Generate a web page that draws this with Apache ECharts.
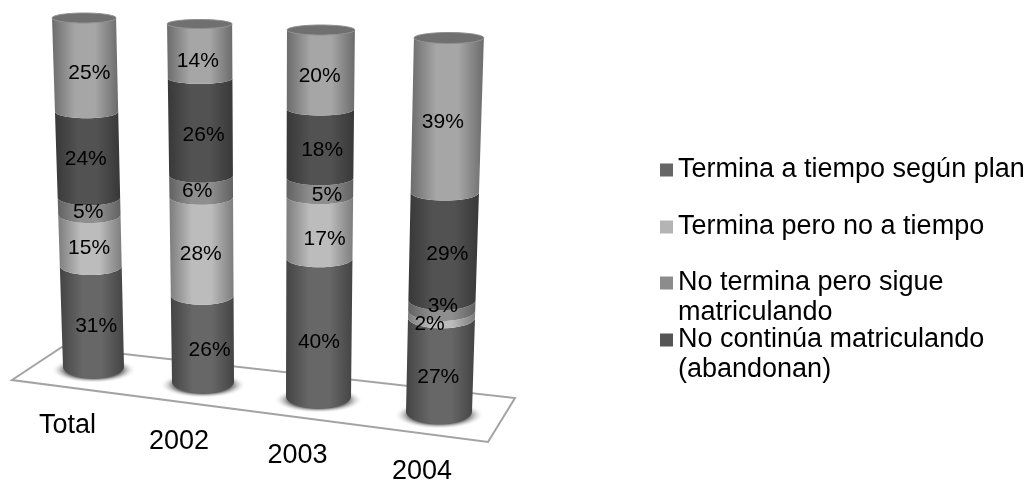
<!DOCTYPE html>
<html>
<head>
<meta charset="utf-8">
<style>html,body{margin:0;background:#fff}#chart{width:1027px;height:483px}</style>
<script src="https://cdn.jsdelivr.net/npm/echarts@6/dist/echarts.min.js"></script>
</head>
<body>
<div id="chart"></div>
<script>
var categories = ['Total', '2002', '2003', '2004']
var terminaATiempo = [31, 26, 40, 27]
var terminaNoATiempo = [15, 28, 17, 2]
var noTerminaSigue = [5, 6, 5, 3]
var noContinua = [24, 26, 18, 29]
var sinLeyenda = [25, 14, 20, 39]
var stackValues = [terminaATiempo, terminaNoATiempo, noTerminaSigue, noContinua, sinLeyenda]
var stackNames = ['Termina a tiempo según plan', 'Termina pero no a tiempo', 'No termina pero sigue matriculando', 'No continúa matriculando (abandonan)', 'Sin leyenda']

// estilo de cada tramo: color de leyenda y degradado del cilindro
var stackStyles = [
  {color: '#666666', edge: '#444444', mid: '#676767'},
  {color: '#b4b4b4', edge: '#7d7d7d', mid: '#bcbcbc'},
  {color: '#8c8c8c', edge: '#626262', mid: '#8e8e8e'},
  {color: '#555555', edge: '#383838', mid: '#525252'},
  {color: '#a0a0a0', edge: '#6c6c6c', mid: '#a6a6a6'}
]
// caja de cada cilindro (base) y cuanto se inclina arriba, en unidades del eje x
var cylinders = [
  {left: 63, width: 61, top: 18, base: 367, leanL: -0.18, leanR: 0.87, ryTop: 5, ryBase: 11, nameShift: -26, nameGap: 45},
  {left: 172, width: 62, top: 24, base: 382, leanL: -0.08, leanR: 0.97, ryTop: 4.5, ryBase: 11, nameShift: -24, nameGap: 46},
  {left: 286, width: 65, top: 30, base: 397, leanL: 0.015, leanR: 1.06, ryTop: 5, ryBase: 11, nameShift: -21, nameGap: 45},
  {left: 406, width: 66, top: 38, base: 412, leanL: 0.12, leanR: 1.18, ryTop: 5.5, ryBase: 12, nameShift: -17, nameGap: 46}
]
var perspective = 1.1

// ajuste manual de etiquetas [dx, dy], por tramo y cilindro
var labelNudge = [
  [[4, -1], [7, 1], [0, 3], [-2, 0]],
  [[-1, -1], [-1, -1], [5, 3], [-12, 0]],
  [[-1, -2], [-4, -3], [7, 0], [1, -9]],
  [[-2, -3], [3, 1], [2, 0], [4, -2]],
  [[4, 2], [-2, 5], [-1, 1], [-4, -1]]
]

function project (v) {
  var t = v / 100
  return t / (t + (1 - t) * perspective)
}

// puntos de la mitad delantera de la elipse a la altura v
function ringPoints (api, cyl, v, back) {
  var t = project(v)
  var l = api.coord([cyl.leanL * t, t * 100])
  var r = api.coord([1 + (cyl.leanR - 1) * t, t * 100])
  var ry = cyl.ryBase + (cyl.ryTop - cyl.ryBase) * t
  var pts = []
  for (var k = 0; k <= 24; k++) {
    var a = Math.PI * k / 24
    var s = back ? -1 : 1
    pts.push([(l[0] + r[0]) / 2 - Math.cos(a) * (r[0] - l[0]) / 2, l[1] + s * Math.sin(a) * ry])
  }
  return pts
}

function makeRender (cyl, style, stackIdx, cylIdx) {
  return function (params, api) {
    var from = api.value(0)
    var to = api.value(1)
    var lower = ringPoints(api, cyl, from)
    var upper = ringPoints(api, cyl, to)
    var children = []
    if (stackIdx === 0) {
      var c0 = api.coord([0.5, 0])
      var halfW = api.size([1, 0])[0] / 2
      var shadowR = halfW + 12
      children.push({
        type: 'circle',
        z2: -5,
        x: c0[0],
        y: c0[1] + 3,
        scaleY: (cyl.ryBase + 2) / shadowR,
        shape: {cx: 0, cy: 0, r: shadowR},
        style: {
          fill: new echarts.graphic.RadialGradient(0.5, 0.5, 0.5, [
            {offset: 0, color: 'rgba(70,70,70,0.95)'},
            {offset: 0.65, color: 'rgba(80,80,80,0.9)'},
            {offset: 1, color: 'rgba(255,255,255,0)'}
          ])
        }
      })
    }
    var fill = new echarts.graphic.LinearGradient(0, 0, 1, 0, [
      {offset: 0, color: style.edge},
      {offset: 0.35, color: style.mid},
      {offset: 0.65, color: style.mid},
      {offset: 1, color: style.edge}
    ])
    children.push({
      type: 'polygon',
      z2: stackIdx,
      shape: {points: upper.concat(lower.slice().reverse())},
      style: {fill: fill}
    })
    if (stackIdx === stackValues.length - 1) {
      children.push({
        type: 'polygon',
        z2: 10,
        shape: {points: upper.concat(ringPoints(api, cyl, to, true).reverse())},
        style: {fill: '#707070', stroke: '#8e8e8e', lineWidth: 1}
      })
    }
    // etiqueta en el centro del tramo
    var mid = ringPoints(api, cyl, (from + to) / 2)
    var centre = mid[12]
    var nudge = labelNudge[stackIdx][cylIdx]
    children.push({
      type: 'text',
      z2: 50,
      style: {
        text: stackValues[stackIdx][cylIdx] + '%',
        x: centre[0] + nudge[0],
        y: centre[1] + nudge[1],
        align: 'center',
        verticalAlign: 'middle',
        font: '21px "Liberation Sans", Arial, sans-serif',
        fill: '#000'
      }
    })
    return {type: 'group', children: children}
  }
}

var grids = [], xAxes = [], yAxes = [], series = []
cylinders.forEach(function (cyl, i) {
  // sin outerBounds: el nombre de 2004 no debe encoger el grid
  grids.push({left: cyl.left, width: cyl.width, top: cyl.top, height: cyl.base - cyl.top, outerBoundsMode: 'none'})
  xAxes.push({
    gridIndex: i,
    type: 'value',
    min: 0,
    max: 1,
    name: categories[i],
    nameLocation: 'middle',
    nameGap: cyl.nameGap,
    nameTextStyle: {
      color: '#000',
      fontSize: 27,
      fontFamily: '"Liberation Sans", Arial, sans-serif',
      padding: [0, -cyl.nameShift * 2, 0, 0]
    },
    axisLine: {show: false},
    axisTick: {show: false},
    axisLabel: {show: false},
    splitLine: {show: false}
  })
  yAxes.push({gridIndex: i, type: 'value', min: 0, max: 100, show: false})
  var sum = 0
  stackValues.forEach(function (values, s) {
    var from = sum
    sum += values[i]
    series.push({
      type: 'custom',
      name: stackNames[s],
      xAxisIndex: i,
      yAxisIndex: i,
      z: 3 + i,
      itemStyle: {color: stackStyles[s].color},
      encode: {x: 0, y: 1},
      renderItem: makeRender(cyl, stackStyles[s], s, i),
      data: [[from, sum]],
      silent: true
    })
  })
})

var legendFont = {color: '#000', fontSize: 27, lineHeight: 30, fontFamily: '"Liberation Sans", Arial, sans-serif'}
function legendAt (idx, top, formatter) {
  return {
    data: [stackNames[idx]],
    left: 655,
    top: top,
    icon: 'rect',
    itemWidth: 13,
    itemHeight: 13,
    selectedMode: false,
    textStyle: legendFont,
    formatter: formatter
  }
}

var chart = echarts.init(document.getElementById('chart'))
chart.setOption({
  animation: false,
  backgroundColor: '#fff',
  grid: grids,
  xAxis: xAxes,
  yAxis: yAxes,
  legend: [
    legendAt(0, 150),
    legendAt(1, 207),
    legendAt(2, 233, '\nNo termina pero sigue\nmatriculando'),
    legendAt(3, 290, '\nNo continúa matriculando\n(abandonan)')
  ],
  graphic: [{
    type: 'polygon',
    z: 1,
    silent: true,
    shape: {points: [[12, 380], [62, 347], [515, 398], [488, 442]]},
    style: {fill: '#fff', stroke: '#a3a3a3', lineWidth: 2}
  }],
  series: series
})
</script>
</body>
</html>
